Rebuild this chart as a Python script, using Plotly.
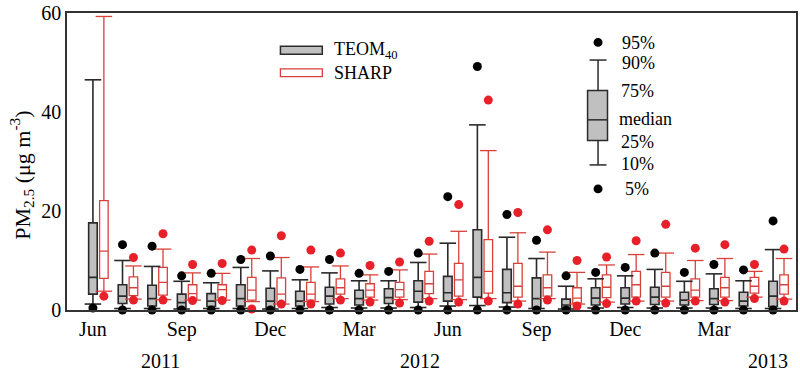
import plotly.graph_objects as go

months = ["Jun", "Jul", "Aug", "Sep", "Oct", "Nov", "Dec", "Jan", "Feb", "Mar", "Apr", "May",
          "Jun", "Jul", "Aug", "Sep", "Oct", "Nov", "Dec", "Jan", "Feb", "Mar", "Apr", "May"]
tick_months = ["Jun", "Sep", "Dec", "Mar", "Jun", "Sep", "Dec", "Mar"]
years = ["2011", "2012", "2013"]
year_pos = [2.11, 10.88, 22.65]

# TEOM40 percentiles
teom_p5 = [0.4, 0, 0, 0, 0, 0, 0, 0, 0, 0, 0, 0, 0, 0, 0, 0, 0, 0, 0, 0, 0, 0, 0, 0]
teom_p10 = [1.2, 0.3, 0.3, 0.2, 0.3, 0.3, 0.2, 0.3, 0.5, 0.4, 0.4, 0.5, 0.8, 0.9, 0.6, 0.3, 0.2, 0.4, 0.5, 0.4, 0.4, 0.4, 0.3, 0.3]
teom_p25 = [3.2, 1.3, 0.8, 0.3, 0.7, 0.8, 0.3, 0.8, 1.2, 1.0, 1.3, 1.6, 1.8, 2.6, 1.5, 0.5, 0.3, 1.0, 1.2, 1.1, 1.0, 1.1, 0.8, 0.7]
teom_p50 = [6.6, 2.8, 2.3, 1.5, 1.8, 2.3, 1.8, 1.8, 2.8, 2.3, 2.5, 3.8, 3.5, 6.6, 3.5, 2.3, 1.0, 2.4, 2.4, 2.6, 2.0, 2.3, 1.8, 2.8]
teom_p75 = [17.6, 5.1, 5.0, 3.2, 3.3, 5.1, 4.4, 3.8, 4.6, 4.0, 4.3, 5.9, 6.8, 16.2, 8.2, 6.5, 2.2, 4.5, 4.5, 4.6, 3.6, 4.3, 3.6, 5.8]
teom_p90 = [46.5, 10.0, 8.8, 5.8, 5.5, 8.6, 7.9, 6.1, 7.5, 5.9, 5.9, 9.6, 13.5, 37.4, 14.7, 10.4, 4.8, 6.3, 6.9, 8.2, 5.8, 7.3, 5.9, 12.2]
teom_p95 = [None, 13.2, 12.9, 6.9, 7.4, 10.2, 10.9, 8.2, 10.2, 7.4, 7.8, 11.5, 22.9, 49.2, 19.3, 14.1, 6.9, 7.6, 8.6, 11.5, 7.6, 9.2, 8.1, 18.0]

# SHARP percentiles
sharp_p5 = [2.8, 2.0, 2.0, 1.9, 1.9, 0.2, 1.2, 1.2, 2.0, 1.6, 1.4, 1.8, 1.6, 1.8, 1.2, 2.0, 0.8, 1.3, 1.8, 1.4, 1.8, 1.6, 2.3, 1.8]
sharp_p10 = [3.8, 2.2, 2.1, 2.0, 2.0, 1.7, 1.2, 1.7, 2.3, 2.0, 2.1, 2.3, 2.1, 2.3, 1.8, 2.3, 1.2, 1.6, 1.8, 1.8, 1.9, 1.9, 2.6, 2.2]
sharp_p25 = [6.4, 2.9, 3.0, 2.2, 2.4, 2.0, 1.5, 2.0, 3.2, 2.6, 2.6, 3.3, 2.8, 3.4, 2.6, 2.8, 1.4, 2.5, 2.6, 2.6, 2.6, 2.6, 3.4, 3.2]
sharp_p50 = [11.9, 4.5, 5.6, 3.3, 4.1, 4.0, 3.2, 3.2, 4.5, 4.0, 4.1, 5.3, 6.1, 7.8, 4.8, 4.5, 2.4, 4.6, 5.1, 4.8, 4.0, 4.5, 4.8, 5.1]
sharp_p75 = [22.1, 6.7, 8.6, 5.1, 5.1, 6.6, 6.5, 5.6, 6.3, 5.3, 5.6, 7.8, 9.4, 14.2, 9.4, 7.1, 4.5, 7.1, 7.8, 7.6, 6.3, 6.6, 6.6, 7.1]
sharp_p90 = [59.3, 8.9, 12.3, 7.5, 7.4, 10.4, 10.6, 8.7, 8.9, 7.1, 8.1, 11.3, 15.9, 32.2, 15.6, 11.7, 7.6, 9.1, 11.2, 11.5, 10.0, 10.4, 7.8, 10.4]
sharp_p95 = [None, 10.6, 15.4, 9.2, 9.4, 12.1, 15.0, 12.1, 11.5, 9.0, 9.7, 13.9, 21.3, 42.4, 19.7, 16.2, 10.0, 10.7, 14.0, 17.3, 12.5, 13.2, 9.2, 12.3]

# ---- styles / geometry ----
OFF = 0.185
BOXW = 0.29
CAPW = 0.28
TEOM_LINE = "#2a2a2a"
TEOM_FILL = "#c0c0c0"
SHARP_LINE = "#d8413a"
SHARP_DOT = "#e8202a"
FONT = "Liberation Serif"

n = len(months)
xT = [i - OFF for i in range(n)]
xS = [i + OFF for i in range(n)]


def caps(xs, lo, hi):
    cx, cy = [], []
    for x, a, b in zip(xs, lo, hi):
        for v in (a, b):
            cx += [x - CAPW, x + CAPW, None]
            cy += [v, v, None]
    return cx, cy


fig = go.Figure()

fig.add_trace(go.Box(x=xT, q1=teom_p25, median=teom_p50, q3=teom_p75,
                     lowerfence=teom_p10, upperfence=teom_p90, width=BOXW,
                     fillcolor=TEOM_FILL, line=dict(color=TEOM_LINE, width=1.6),
                     whiskerwidth=0, boxpoints=False, showlegend=False, name="TEOM40"))
fig.add_trace(go.Box(x=xS, q1=sharp_p25, median=sharp_p50, q3=sharp_p75,
                     lowerfence=sharp_p10, upperfence=sharp_p90, width=BOXW,
                     fillcolor="white", line=dict(color=SHARP_LINE, width=1.3),
                     whiskerwidth=0, boxpoints=False, showlegend=False, name="SHARP"))

cx, cy = caps(xT, teom_p10, teom_p90)
fig.add_trace(go.Scatter(x=cx, y=cy, mode="lines", line=dict(color=TEOM_LINE, width=1.6),
                         showlegend=False, hoverinfo="skip"))
cx, cy = caps(xS, sharp_p10, sharp_p90)
fig.add_trace(go.Scatter(x=cx, y=cy, mode="lines", line=dict(color=SHARP_LINE, width=1.3),
                         showlegend=False, hoverinfo="skip"))

fig.add_trace(go.Scatter(x=xT + xT, y=teom_p5 + teom_p95, mode="markers",
                         marker=dict(color="black", size=9), cliponaxis=False, showlegend=False))
fig.add_trace(go.Scatter(x=xS + xS, y=sharp_p5 + sharp_p95, mode="markers",
                         marker=dict(color=SHARP_DOT, size=9), cliponaxis=False, showlegend=False))

L, R, T, B = 67, 2, 7, 63
W, H = 800, 373
pw, ph = W - L - R, H - T - B


def px(x):
    return (x - L) / pw


def py(y):
    return (H - B - y) / ph


shapes = []
annotations = []

# legend (custom)
shapes.append(dict(type="rect", xref="paper", yref="paper", x0=px(281), x1=px(323), y0=py(49), y1=py(41),
                   fillcolor=TEOM_FILL, line=dict(color=TEOM_LINE, width=1.5)))
shapes.append(dict(type="rect", xref="paper", yref="paper", x0=px(281), x1=px(323), y0=py(72), y1=py(64),
                   fillcolor="white", line=dict(color=SHARP_LINE, width=1.3)))
annotations.append(dict(xref="paper", yref="paper", x=px(333), y=py(45), xanchor="left", yanchor="middle",
                        text="TEOM<sub>40</sub>", showarrow=False, font=dict(family=FONT, size=18, color="black")))
annotations.append(dict(xref="paper", yref="paper", x=px(333), y=py(68), xanchor="left", yanchor="middle",
                        text="SHARP", showarrow=False, font=dict(family=FONT, size=18, color="black")))

# percentile key
kx = 599.5
shapes.append(dict(type="circle", xref="paper", yref="paper", x0=px(kx - 4.5), x1=px(kx + 4.5),
                   y0=py(41.5), y1=py(32.5), fillcolor="black", line=dict(width=0)))
shapes.append(dict(type="circle", xref="paper", yref="paper", x0=px(kx - 4.5), x1=px(kx + 4.5),
                   y0=py(191), y1=py(182), fillcolor="black", line=dict(width=0)))
for y in (55, 162):
    shapes.append(dict(type="line", xref="paper", yref="paper", x0=px(591), x1=px(608), y0=py(y), y1=py(y),
                       line=dict(color=TEOM_LINE, width=1.5)))
shapes.append(dict(type="line", xref="paper", yref="paper", x0=px(kx), x1=px(kx), y0=py(55), y1=py(86),
                   line=dict(color=TEOM_LINE, width=1.5)))
shapes.append(dict(type="line", xref="paper", yref="paper", x0=px(kx), x1=px(kx), y0=py(137), y1=py(162),
                   line=dict(color=TEOM_LINE, width=1.5)))
shapes.append(dict(type="rect", xref="paper", yref="paper", x0=px(589), x1=px(609), y0=py(137), y1=py(86),
                   fillcolor=TEOM_FILL, line=dict(color=TEOM_LINE, width=1.5)))
shapes.append(dict(type="line", xref="paper", yref="paper", x0=px(589), x1=px(609), y0=py(116), y1=py(116),
                   line=dict(color=TEOM_LINE, width=1.5)))
key_labels = [("95%", 622, 38), ("90%", 622, 58), ("75%", 621, 87), ("median", 619, 115),
              ("25%", 621, 139), ("10%", 621, 161), ("5%", 625, 187)]
for t, x, y in key_labels:
    annotations.append(dict(xref="paper", yref="paper", x=px(x), y=py(y), xanchor="left", yanchor="middle",
                            text=t, showarrow=False, font=dict(family=FONT, size=18, color="black")))

# year labels
for yl, xp in zip(years, year_pos):
    annotations.append(dict(xref="x", yref="paper", x=xp, y=py(362), xanchor="center", yanchor="middle",
                            text=yl, showarrow=False, font=dict(family=FONT, size=20, color="black")))

# y title
annotations.append(dict(xref="paper", yref="paper", x=px(22), y=py(173), xanchor="center", yanchor="middle",
                        textangle=-90, text="PM<sub>2.5</sub> (μg m<sup>-3</sup>)", showarrow=False,
                        font=dict(family=FONT, size=22, color="black")))

fig.update_layout(
    width=W, height=H, margin=dict(l=L, r=R, t=T, b=B),
    plot_bgcolor="white", paper_bgcolor="white",
    boxmode="overlay", showlegend=False,
    shapes=shapes, annotations=annotations,
    font=dict(family=FONT, size=20, color="black"),
    xaxis=dict(range=[-1.062, 23.59], showgrid=False, zeroline=False, showline=True, mirror=True,
               linecolor="#333", linewidth=1.5, ticks="", ticklabeloverflow="allow",
               tickvals=[i - OFF for i in range(0, n, 3)], ticktext=tick_months,
               tickfont=dict(family=FONT, size=20, color="black")),
    yaxis=dict(range=[0, 60], showgrid=False, zeroline=False, showline=True, mirror=True,
               linecolor="#333", linewidth=1.5, ticks="", ticklabeloverflow="allow",
               tickvals=[0, 20, 40, 60], tickfont=dict(family=FONT, size=20, color="black")),
)

fig.write_html("out.html", config={"displayModeBar": False},
               post_script="document.body.style.margin='0px';")
